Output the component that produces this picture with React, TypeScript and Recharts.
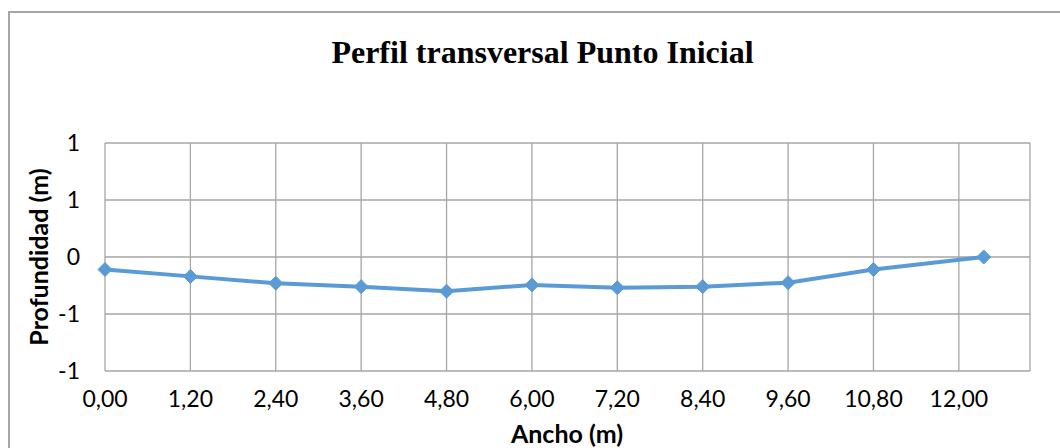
import React from 'react';
import { LineChart, Line, XAxis, YAxis, CartesianGrid } from 'recharts';

// Ancho (m) vs profundidad (m)
const anchoValues = [0, 1.2, 2.4, 3.6, 4.8, 6.0, 7.2, 8.4, 9.6, 10.8, 12.35];
const profundidadValues = [-0.11, -0.17, -0.23, -0.26, -0.3, -0.245, -0.27, -0.26, -0.225, -0.11, 0];
const xTicks = [0, 1.2, 2.4, 3.6, 4.8, 6.0, 7.2, 8.4, 9.6, 10.8, 12.0];
const yTicks = [-1, -0.5, 0, 0.5, 1];

const data = anchoValues.map((x, i) => ({ x, y: profundidadValues[i] }));

const fmtX = (v: number) => v.toFixed(2).replace('.', ',');
// Excel shows these with no decimals, so 0.5 -> 1, -0.5 -> -1
const fmtY = (v: number) => String(Math.sign(v) * Math.round(Math.abs(v)));

const BLUE = '#5b9bd5';
const GRID = '#a6a6a6';
const TICK_FONT = 'Lato, "Open Sans", sans-serif';

const Diamond = (props: any) => {
  const { cx, cy } = props;
  if (cx == null || cy == null) return null;
  const r = 7;
  return (
    <polygon
      points={`${cx},${cy - r} ${cx + r},${cy} ${cx},${cy + r} ${cx - r},${cy}`}
      fill={BLUE}
      stroke={BLUE}
      strokeWidth={1}
    />
  );
};

export default function App() {
  return (
    <div style={{ position: 'absolute', left: 0, top: 0, width: 1060, height: 448, overflow: 'hidden', background: '#fff' }}>
      <div
        style={{
          position: 'absolute',
          left: 8,
          top: 11,
          width: 1100,
          height: 500,
          borderLeft: '2px solid #a6a6a6',
          borderTop: '2px solid #a6a6a6',
        }}
      />
      <div
        style={{
          position: 'absolute',
          left: 0,
          width: 1085,
          top: 34,
          textAlign: 'center',
          fontFamily: '"Liberation Serif", serif',
          fontWeight: 'bold',
          fontSize: 32,
        }}
      >
        Perfil transversal Punto Inicial
      </div>
      <div style={{ position: 'absolute', left: 0, top: 0 }}>
        <LineChart width={1060} height={448} data={data} margin={{ top: 143, right: 30, bottom: 47, left: 0 }}>
          <CartesianGrid stroke={GRID} strokeWidth={1.3} />
          <XAxis
            dataKey="x"
            type="number"
            domain={[0, 13]}
            ticks={xTicks}
            tickFormatter={fmtX}
            height={30}
            axisLine={false}
            tickLine={false}
            tickSize={0}
            tickMargin={20}
            interval={0}
            tick={{ fontSize: 23, fill: '#000', fontFamily: TICK_FONT }}
          />
          <YAxis
            type="number"
            domain={[-1, 1]}
            ticks={yTicks}
            tickFormatter={fmtY}
            width={105}
            axisLine={false}
            tickLine={false}
            tickSize={0}
            tickMargin={25}
            interval={0}
            tick={{ fontSize: 23, fill: '#000', fontFamily: TICK_FONT }}
          />
          <Line
            type="linear"
            dataKey="y"
            stroke={BLUE}
            strokeWidth={4}
            dot={<Diamond />}
            activeDot={false}
            isAnimationActive={false}
          />
        </LineChart>
      </div>
      <div
        style={{
          position: 'absolute',
          left: 38,
          top: 257,
          transform: 'translate(-50%, -50%) rotate(-90deg)',
          whiteSpace: 'nowrap',
          fontFamily: TICK_FONT,
          fontWeight: 'bold',
          fontSize: 25,
        }}
      >
        Profundidad (m)
      </div>
      <div
        style={{
          position: 'absolute',
          left: 567,
          top: 433,
          transform: 'translate(-50%, -50%)',
          whiteSpace: 'nowrap',
          fontFamily: TICK_FONT,
          fontWeight: 'bold',
          fontSize: 25,
        }}
      >
        Ancho (m)
      </div>
    </div>
  );
}
